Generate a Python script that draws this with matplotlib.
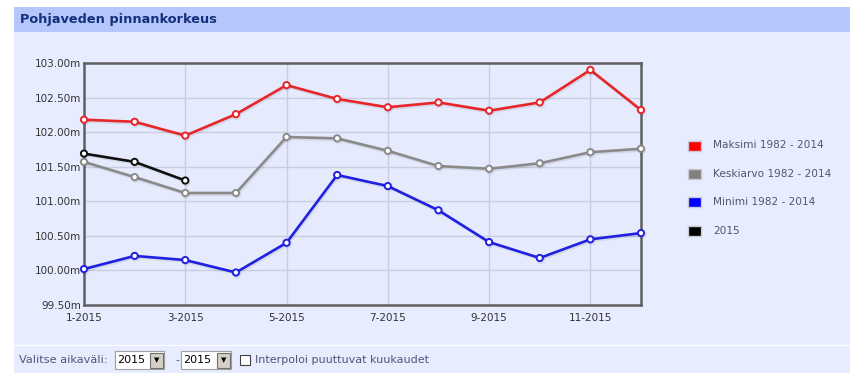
import matplotlib
matplotlib.use("Agg")
import matplotlib.pyplot as plt
from matplotlib.patches import Rectangle
import matplotlib.patheffects as pe

months = list(range(1, 13))
maksimi = [102.18, 102.15, 101.95, 102.26, 102.68, 102.48, 102.36, 102.43, 102.31, 102.43, 102.90, 102.32]
keskiarvo = [101.57, 101.35, 101.12, 101.12, 101.93, 101.91, 101.73, 101.51, 101.47, 101.55, 101.71, 101.76]
minimi = [100.02, 100.21, 100.15, 99.97, 100.40, 101.38, 101.22, 100.87, 100.41, 100.18, 100.45, 100.54]
v2015 = [101.69, 101.57, 101.30]
xtick_months = [1, 3, 5, 7, 9, 11]
xtick_labels = ["1-2015", "3-2015", "5-2015", "7-2015", "9-2015", "11-2015"]
yticks = [99.5, 100.0, 100.5, 101.0, 101.5, 102.0, 102.5, 103.0]
series_names = ["Maksimi 1982 - 2014", "Keskiarvo 1982 - 2014", "Minimi 1982 - 2014", "2015"]
series_colors = ["#e8262a", "#8a8a8a", "#2020e0", "#101010"]
legend_colors = ["#ff0000", "#808080", "#0000ff", "#000000"]

W, H = 851, 379
fig = plt.figure(figsize=(W / 100, H / 100), dpi=100)
fig.patch.set_facecolor("white")

def px_rect(x0, y0, x1, y1, color, z=-5):
    fig.patches.append(Rectangle((x0 / W, 1 - y1 / H), (x1 - x0) / W, (y1 - y0) / H,
                                 transform=fig.transFigure, facecolor=color,
                                 edgecolor="none", zorder=z))

# panel
px_rect(14, 7, 850, 32, "#b6c6fa")
px_rect(14, 32, 850, 345, "#e7ecff")
px_rect(14, 346, 850, 373, "#e7ecff")

fig.text(20 / W, 1 - 19.5 / H, "Pohjaveden pinnankorkeus", fontsize=9.3, fontweight="bold",
         color="#13307e", va="center", ha="left", family="DejaVu Sans")

ax = fig.add_axes([84 / W, 1 - 305 / H, (641 - 84) / W, (305 - 63) / H])
ax.set_zorder(5)
ax.set_facecolor("#e5eafd")
ax.set_xlim(1, 12)
ax.set_ylim(99.5, 103.0)
ax.set_xticks(xtick_months)
ax.set_xticklabels(xtick_labels)
ax.set_yticks(yticks)
ax.set_yticklabels([f"{v:.2f}m" for v in yticks])
ax.tick_params(axis="y", length=0, labelsize=7.5, labelcolor="#333333", pad=2)
ax.tick_params(axis="x", length=0, labelsize=7.5, labelcolor="#333333", pad=6)
ax.grid(True, color="#c9cde2", linewidth=1)
ax.set_axisbelow(True)
for s in ax.spines.values():
    s.set_color("#606060")
    s.set_linewidth(1.8)

data = [maksimi, keskiarvo, minimi, v2015]
for vals, c in zip(data, series_colors):
    xs = months[:len(vals)]
    ax.plot(xs, vals, color=c, linewidth=1.9, marker="o", markersize=4.5,
            markerfacecolor="white", markeredgecolor=c, markeredgewidth=1.4,
            clip_on=False, zorder=3,
            path_effects=[pe.SimpleLineShadow(offset=(0.8, -1.2), alpha=0.08, shadow_color="black"),
                          pe.Normal()])

# legend
leg_y = [145.5, 174, 202, 230.5]
for y, name, c in zip(leg_y, series_names, legend_colors):
    fig.patches.append(Rectangle((688 / W, 1 - (y + 5) / H), 13 / W, 10 / H,
                                 transform=fig.transFigure, facecolor=c,
                                 edgecolor="#c8c8d0", linewidth=1, zorder=2))
    fig.text(713 / W, 1 - y / H, name, fontsize=7.6, color="#55556e", va="center", ha="left")

# bottom controls
fig.text(19 / W, 1 - 360 / H, "Valitse aikaväli:", fontsize=8.2, color="#55557a", va="center", ha="left")

def select_box(x0, x1, label):
    fig.patches.append(Rectangle((x0 / W, 1 - 369 / H), (x1 - x0) / W, 18 / H,
                                 transform=fig.transFigure, facecolor="white",
                                 edgecolor="#a0a0a0", linewidth=0.8, zorder=2))
    fig.text((x0 + 2) / W, 1 - 360 / H, label, fontsize=8, color="black", va="center", ha="left", zorder=3)
    fig.patches.append(Rectangle(((x1 - 14) / W, 1 - 367.5 / H), 12.5 / W, 15 / H,
                                 transform=fig.transFigure, facecolor="#d4d0c8",
                                 edgecolor="#707070", linewidth=0.8, zorder=3))
    fig.text((x1 - 7.8) / W, 1 - 360.5 / H, "▼", fontsize=5, color="black", va="center", ha="center", zorder=4)

select_box(115, 164, "2015")
fig.text(177 / W, 1 - 360 / H, "-", fontsize=8, color="#55557a", va="center", ha="center")
select_box(181, 231, "2015")
fig.patches.append(Rectangle((240 / W, 1 - 365 / H), 10 / W, 10 / H,
                             transform=fig.transFigure, facecolor="white",
                             edgecolor="#404040", linewidth=0.8, zorder=2))
fig.text(255 / W, 1 - 360 / H, "Interpoloi puuttuvat kuukaudet", fontsize=8, color="#55557a",
         va="center", ha="left")

fig.savefig("out.png", dpi=100)
